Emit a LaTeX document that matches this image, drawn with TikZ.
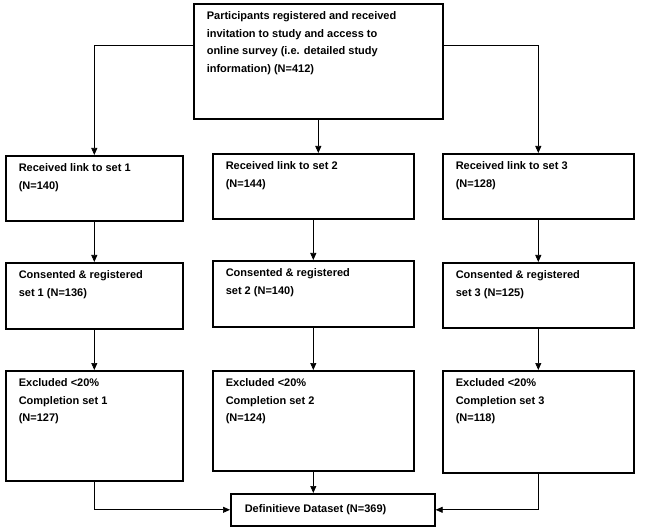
\documentclass[tikz,border=0pt]{standalone}
\usepackage{fontspec}
\setmainfont{Liberation Sans}
\usetikzlibrary{arrows.meta}
\newcommand{\bt}[3]{\parbox[c][#2pt][t]{#1pt}{\raggedright\vspace*{8pt}#3}}
\begin{document}
\begin{tikzpicture}[x=1pt,y=-1pt,
 box/.style={draw,line width=1.6pt,anchor=north west,inner xsep=13pt,inner ysep=0pt,
   font=\bfseries\fontsize{11}{17.5}\selectfont},
 arr/.style={-{Triangle[length=7pt,width=6pt]},line width=0.7pt}]
\useasboundingbox (0,0) rectangle (666,529);
\node[box] (t) at (193,3) {\bt{223}{115}{Participants registered and received\\invitation to study and access to\\online survey (i.e. detailed study\\information) (N=412)}};
\node[box] (a1) at (5,155) {\bt{151}{65}{Received link to set 1\\(N=140)}};
\node[box] (b1) at (212,153) {\bt{175}{65}{Received link to set 2\\(N=144)}};
\node[box] (c1) at (442,153) {\bt{165}{65}{Received link to set 3\\(N=128)}};
\node[box] (a2) at (5,262) {\bt{151}{66}{Consented \& registered\\set 1 (N=136)}};
\node[box] (b2) at (212,260) {\bt{175}{66}{Consented \& registered\\set 2 (N=140)}};
\node[box] (c2) at (442,262) {\bt{165}{65}{Consented \& registered\\set 3 (N=125)}};
\node[box] (a3) at (5,370) {\bt{151}{110}{Excluded <20\%\\Completion set 1\\(N=127)}};
\node[box] (b3) at (212,370) {\bt{175}{100}{Excluded <20\%\\Completion set 2\\(N=124)}};
\node[box] (c3) at (442,370) {\bt{165}{102}{Excluded <20\%\\Completion set 3\\(N=118)}};
\node[box,inner xsep=0pt] (d) at (230,493) {\parbox[c][32pt][c]{204pt}{\hspace*{14pt}Definitieve Dataset (N=369)}};
\draw[arr] (t.west|-0,45) -| (a1.north);
\draw[arr] (t.south) -- (t.south|-b1.north);
\draw[arr] (t.east|-0,45) -| (c1.north);
\draw[arr] (a1) -- (a2);
\draw[arr] (b1) -- (b2);
\draw[arr] (c1) -- (c2);
\draw[arr] (a2) -- (a3);
\draw[arr] (b2) -- (b3);
\draw[arr] (c2) -- (c3);
\draw[arr] (a3.south) |- (d.west);
\draw[arr] (b3.south) -- (b3.south|-d.north);
\draw[arr] (c3.south) |- (d.east);
\end{tikzpicture}
\end{document}
